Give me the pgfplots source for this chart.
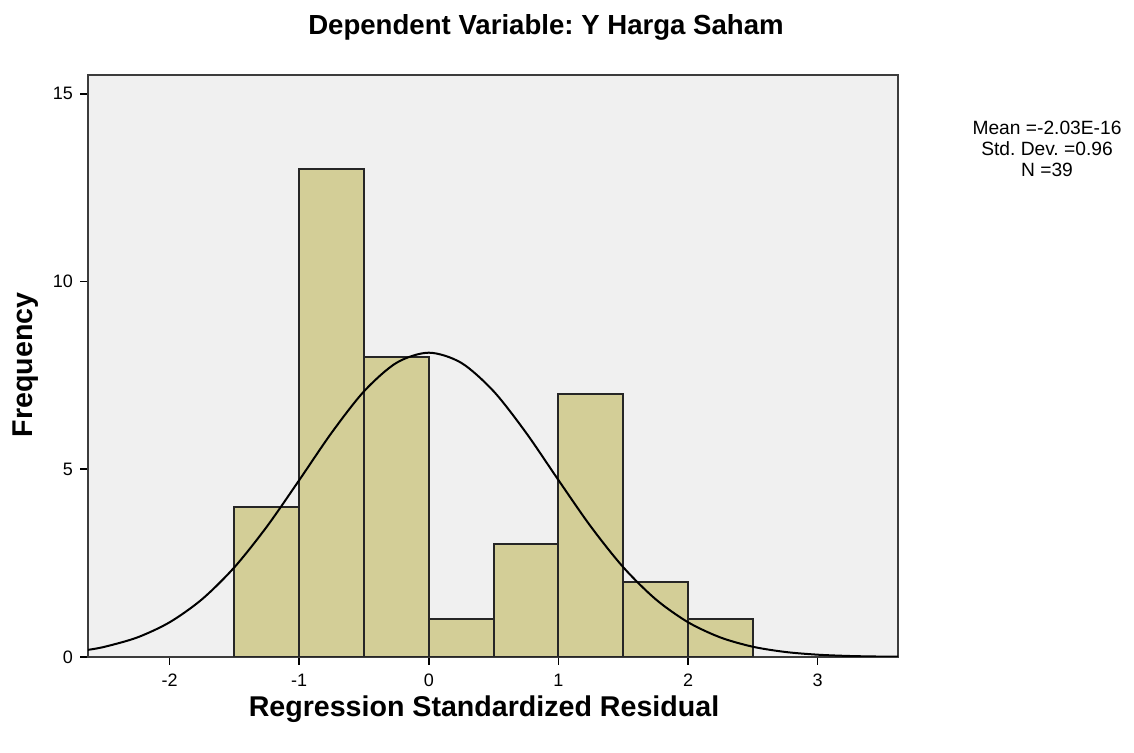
\documentclass[border=0pt]{standalone}
\usepackage{pgfplots}
\pgfplotsset{compat=1.18}
\usepackage{fontspec}
\setmainfont{Liberation Sans}
\frenchspacing
\definecolor{barfill}{RGB}{211,206,151}
\definecolor{bgfill}{RGB}{240,240,240}
\definecolor{framec}{RGB}{60,60,60}
\begin{document}
\begin{tikzpicture}[x=0.5pt,y=0.5pt]
\useasboundingbox (0,0) rectangle (1134,753);
\begin{axis}[
  at={(44pt,48pt)}, anchor=south west,
  scale only axis, width=405pt, height=291pt,
  xmin=-2.63, xmax=3.62, ymin=0, ymax=15.5,
  axis background/.style={fill=bgfill},
  axis line style={framec, line width=1pt},
  xtick={-2,-1,0,1,2,3}, ytick={0,5,10,15},
  tick align=outside, tick pos=left,
  major tick length=4pt,
  tick style={black, line width=0.8pt},
  ticklabel style={font=\fontsize{9}{11}\selectfont},
  /pgf/number format/assume math mode=true,
  xticklabel style={yshift=-1pt},
  clip=true,
]
\addplot[ybar interval, fill=barfill, draw=black!85, line width=1pt] coordinates {
  (-1.5,4) (-1.0,13) (-0.5,8) (0.0,1) (0.5,3) (1.0,7) (1.5,2) (2.0,1) (2.5,1)
};
\addplot[black, line width=1pt, smooth] coordinates {
  (-2.63,0.190) (-2.5,0.273) (-2.25,0.520) (-2.0,0.925) (-1.75,1.538) (-1.5,2.391)
  (-1.25,3.472) (-1.0,4.711) (-0.75,5.973) (-0.5,7.076) (-0.25,7.834) (0,8.104)
  (0.25,7.834) (0.5,7.076) (0.75,5.973) (1.0,4.711) (1.25,3.472) (1.5,2.391)
  (1.75,1.538) (2.0,0.925) (2.25,0.520) (2.5,0.273) (2.75,0.134) (3.0,0.0614)
  (3.25,0.0263) (3.5,0.0105) (3.62,0.0066)
};
\end{axis}
\node[font=\bfseries\fontsize{13.8}{16}\selectfont] at (546,726) {Dependent Variable: Y Harga Saham};
\node[font=\bfseries\fontsize{14.3}{16}\selectfont] at (484,44) {Regression Standardized Residual};
\node[font=\bfseries\fontsize{14.3}{16}\selectfont, rotate=90] at (26,388) {Frequency};
\node[font=\fontsize{9.6}{10.5}\selectfont, align=center] at (1047,604) {Mean =-2.03E-16\\Std. Dev. =0.96\\N =39};
\end{tikzpicture}
\end{document}
